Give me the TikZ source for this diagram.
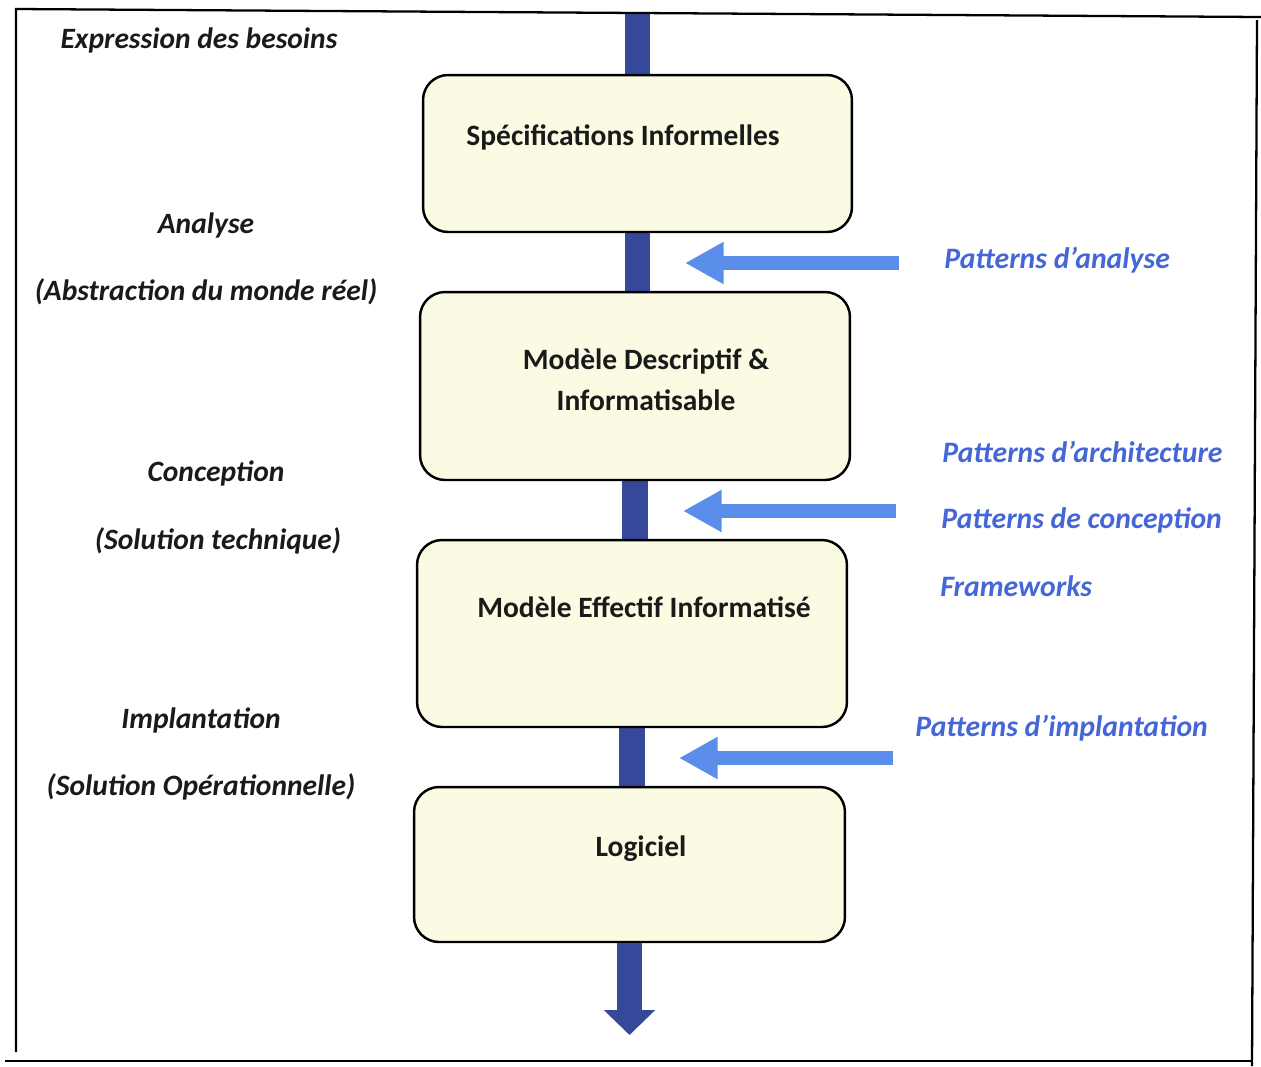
\documentclass[tikz,border=0pt]{standalone}
\usepackage{fontspec}
\setmainfont{Carlito}
\usetikzlibrary{arrows.meta,backgrounds}

\definecolor{barblue}{HTML}{36489A}
\definecolor{hintblue}{HTML}{5B8DEA}
\definecolor{labelblue}{HTML}{4466D6}
\definecolor{boxfill}{HTML}{FBFBE4}
\definecolor{ink}{HTML}{1A1A1A}

\tikzset{
  stage/.style={draw=black, line width=1.4pt, fill=boxfill, rounded corners=0.5cm,
    inner sep=0pt},
  stagetext/.style={font=\fontsize{16.8}{23.5}\selectfont\bfseries, text=ink,
    align=center, inner sep=0pt},
  phase/.style={font=\fontsize{16.8}{20}\selectfont\bfseries\itshape, text=ink,
    inner sep=0pt},
  hint/.style={font=\fontsize{16.9}{20}\selectfont\bfseries\itshape, text=labelblue,
    inner sep=0pt, anchor=west},
  flowbar/.style={draw=barblue, line width=14.7pt},
  flowend/.style={flowbar, -{Triangle[width=28.4pt,length=14.2pt]}},
  hintarrow/.style={draw=hintblue, line width=8.3pt,
    -{Triangle[width=22.5pt,length=22pt]}},
  frame/.style={draw=black, line width=1.3pt}
}

\begin{document}
\begin{tikzpicture}[x=0.02cm, y=-0.02cm]
  \useasboundingbox (0,0) rectangle (1261,1066);

  % page frame
  \coordinate (f1) at (16,1052);
  \coordinate (f2) at (16,9);
  \coordinate (f3) at (1261,17);
  \coordinate (f4) at (1257,20);
  \coordinate (f5) at (1252,1066);
  \coordinate (f6) at (5,1061);
  \coordinate (f7) at (1252,1061);
  \draw[frame] (f1) -- (f2) -- (f3);
  \draw[frame] (f4) -- (f5);
  \draw[frame] (f6) -- (f7);

  % stages
  \node[stage, minimum width=8.58cm, minimum height=3.14cm] (b1) at (637.5,153.5) {};
  \node[stage, minimum width=8.60cm, minimum height=3.76cm] (b2) at (635,386) {};
  \node[stage, minimum width=8.60cm, minimum height=3.74cm] (b3) at (632,633.5) {};
  \node[stage, minimum width=8.62cm, minimum height=3.10cm] (b4) at (629.5,864.5) {};

  \node[stagetext] (t1) at (623,137) {Spécifications Informelles};
  \node[stagetext] (t2) at (646,380) {Modèle Descriptif \&\\Informatisable};
  \node[stagetext] (t3) at (644,607) {Modèle Effectif Informatisé};
  \node[stagetext] (t4) at (641,849) {Logiciel};

  % main flow
  \coordinate (top) at (637.5,12);
  \coordinate (bottom) at (629.5,1035);
  \begin{scope}[on background layer]
    \draw[flowbar] (top) -- (b1.north);
    \draw[flowbar] (b1.south) -- (b1.south |- b2.north);
    \draw[flowbar] (b2.south) -- (b2.south |- b3.north);
    \draw[flowbar] (b3.south) -- (b3.south |- b4.north);
  \end{scope}
  \draw[flowend] (b4.south) -- (bottom);

  % phases
  \node[phase] (l0) at (199,40) {Expression des besoins};
  \node[phase] (l1) at (206,225) {Analyse};
  \node[phase] (l2) at (206,292) {(Abstraction du monde réel)};
  \node[phase] (l3) at (216,473) {Conception};
  \node[phase] (l4) at (218,541) {(Solution technique)};
  \node[phase] (l5) at (201,720) {Implantation};
  \node[phase] (l6) at (201,787) {(Solution Opérationnelle)};

  % patterns feeding each step
  \coordinate (a1s) at (899,263);
  \coordinate (a1e) at (685,263);
  \coordinate (a2s) at (896,511);
  \coordinate (a2e) at (683,511);
  \coordinate (a3s) at (893,758);
  \coordinate (a3e) at (679,758);
  \draw[hintarrow] (a1s) -- (a1e);
  \draw[hintarrow] (a2s) -- (a2e);
  \draw[hintarrow] (a3s) -- (a3e);

  \node[hint] (r1) at (944,260) {Patterns d’analyse};
  \node[hint] (r2) at (942,452) {Patterns d’architecture};
  \node[hint] (r3) at (941,520) {Patterns de conception};
  \node[hint] (r4) at (940,586) {Frameworks};
  \node[hint] (r5) at (915,728) {Patterns d’implantation};
\end{tikzpicture}
\end{document}
